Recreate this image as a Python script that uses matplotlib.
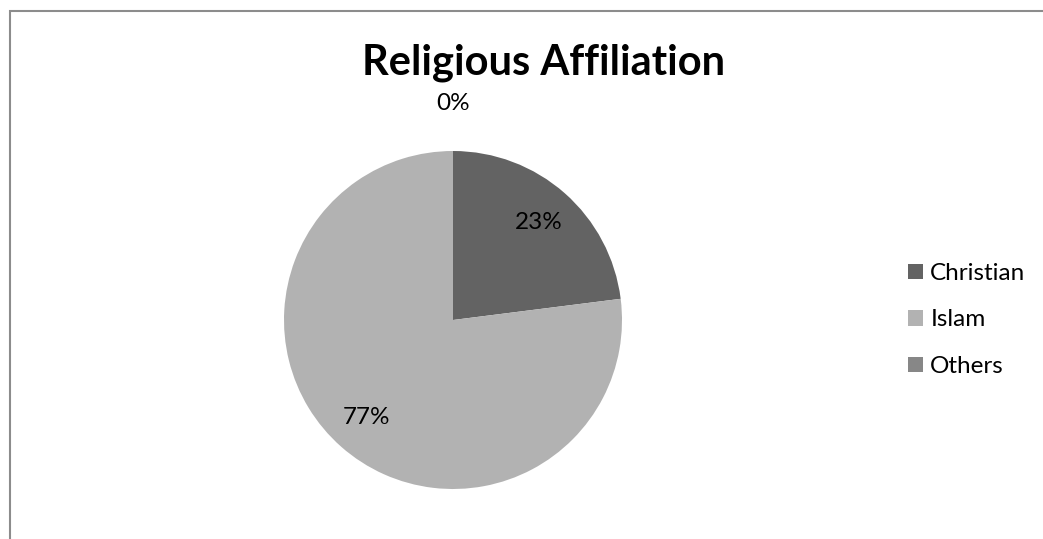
import matplotlib.pyplot as plt
from matplotlib.patches import Rectangle
import numpy as np

# data
labels = ["Christian", "Islam", "Others"]
values = [23, 77, 0]
colors = ["#636363", "#b2b2b2", "#878787"]

plt.rcParams['font.family'] = ['Lato', 'DejaVu Sans']

W, H = 1043, 539
fig = plt.figure(figsize=(W / 100, H / 100), dpi=100)

# outer border (only left and top edges fall inside the picture)
fig.patches.append(Rectangle((9.5 / W, -0.2), 1.5, 1 - 11 / H + 0.2,
                             transform=fig.transFigure, fill=False,
                             edgecolor="#8c8c8c", linewidth=1.5))

# pie axes, centred at (453, 320) px with radius 169 px
cx, cy, r = 453, 320, 169
ax = fig.add_axes([(cx - r) / W, 1 - (cy + r) / H, 2 * r / W, 2 * r / H])
wedges, texts, autotexts = ax.pie(values, colors=colors, startangle=90,
                                  counterclock=False, autopct='%1.0f%%',
                                  pctdistance=0.77,
                                  textprops={'fontsize': 17.5, 'color': '#000000'})
ax.set_xlim(-1, 1)
ax.set_ylim(-1, 1)
ax.set_aspect('equal')
ax.axis('off')

# zero-size slice gets its label outside the pie
for w, t in zip(wedges, autotexts):
    ang = np.deg2rad((w.theta1 + w.theta2) / 2)
    if w.theta2 - w.theta1 < 1:
        t.set_position((1.28 * np.cos(ang), 1.28 * np.sin(ang)))

fig.text(544 / W, 1 - 63 / H, "Religious Affiliation", ha='center', va='center',
         fontsize=30, fontweight='bold')

fig.legend(wedges, labels, loc='center left',
           bbox_to_anchor=(908 / W, 1 - 320 / H), frameon=False,
           fontsize=17.5, handlelength=0.62, handleheight=0.62,
           handletextpad=0.3, labelspacing=1.05, borderpad=0,
           borderaxespad=0)

fig.savefig("out.png", dpi=100)
